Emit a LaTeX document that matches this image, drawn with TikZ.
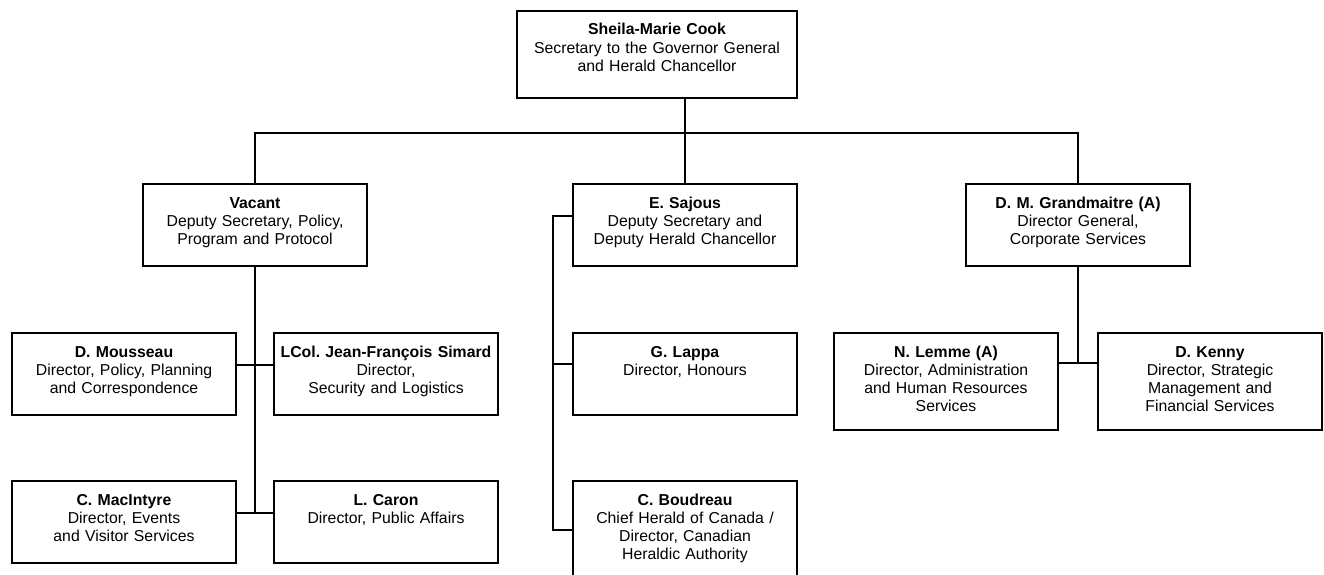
\documentclass[tikz,border=0pt]{standalone}
\usepackage{fontspec}
\setmainfont{Liberation Sans}
\usetikzlibrary{positioning}

\begin{document}
\begin{tikzpicture}[x=1pt,y=-1pt,line width=2pt,
    post/.style={draw,anchor=north,align=center,inner sep=0pt,
      text width=224pt,text height=24pt,text depth=58pt,
      font=\fontsize{15.8}{18.3}\selectfont}]

  \useasboundingbox (0,0) rectangle (1324,575);
  \clip (0,0) rectangle (1324,575);

  \node[post,text width=280pt,text depth=63pt] (cook) at (657,10)
    {\textbf{Sheila-Marie Cook}\\Secretary to the Governor General\\and Herald Chancellor};

  \node[post] (vacant) at (255,183)
    {\textbf{Vacant}\\Deputy Secretary, Policy,\\Program and Protocol};
  \node[post] (sajous) at (685,183)
    {\textbf{E. Sajous}\\Deputy Secretary and\\Deputy Herald Chancellor};
  \node[post] (grand) at (1078,183)
    {\textbf{D. M. Grandmaitre (A)}\\Director General,\\Corporate Services};

  \node[post] (mous) at (124,332)
    {\textbf{D. Mousseau}\\Director, Policy, Planning\\and Correspondence};
  \node[post,right=36pt of mous] (simard)
    {\textbf{LCol.\ Jean-François Simard}\\Director,\\Security and Logistics};
  \node[post] (macin) at (124,480)
    {\textbf{C. MacIntyre}\\Director, Events\\and Visitor Services};
  \node[post,right=36pt of macin] (caron)
    {\textbf{L. Caron}\\Director, Public Affairs};

  \node[post] (lappa) at (685,332)
    {\textbf{G. Lappa}\\Director, Honours};
  \node[post,text depth=92pt] (boud) at (685,480)
    {\textbf{C. Boudreau}\\Chief Herald of Canada /\\Director, Canadian\\Heraldic Authority};

  \node[post,text depth=73pt] (lemme) at (946,332)
    {\textbf{N. Lemme (A)}\\Director, Administration\\and Human Resources\\Services};
  \node[post,text depth=73pt,right=38pt of lemme] (kenny)
    {\textbf{D. Kenny}\\Director, Strategic\\Management and\\Financial Services};

  % top level
  \coordinate (bar) at (0,133);
  \draw ([xshift=28pt]cook.south) -- ([xshift=28pt]cook.south |- bar);
  \draw (vacant.north) |- (bar -| grand.north) -- (grand.north);
  \draw (bar -| sajous.north) -- (sajous.north);

  % policy branch
  \coordinate (mbr) at ([yshift=-33pt]mous.north east);
  \coordinate (cbr) at ([yshift=-33pt]macin.north east);
  \draw (vacant.south) -- (vacant.south |- cbr);
  \draw (mbr) -- (mbr -| simard.west);
  \draw (cbr) -- (cbr -| caron.west);

  % herald branch
  \coordinate (s1) at ([yshift=-33pt]sajous.north west);
  \coordinate (s2) at ([yshift=-32pt]lappa.north west);
  \coordinate (s3) at ([yshift=-50pt]boud.north west);
  \draw (s1) -- ++(-19,0) |- (s3);
  \draw (s2) -- ++(-19,0);

  % corporate branch
  \coordinate (lbr) at ([yshift=-31pt]lemme.north east);
  \draw (grand.south) -- (grand.south |- lbr);
  \draw (lbr) -- (lbr -| kenny.west);
\end{tikzpicture}
\end{document}
